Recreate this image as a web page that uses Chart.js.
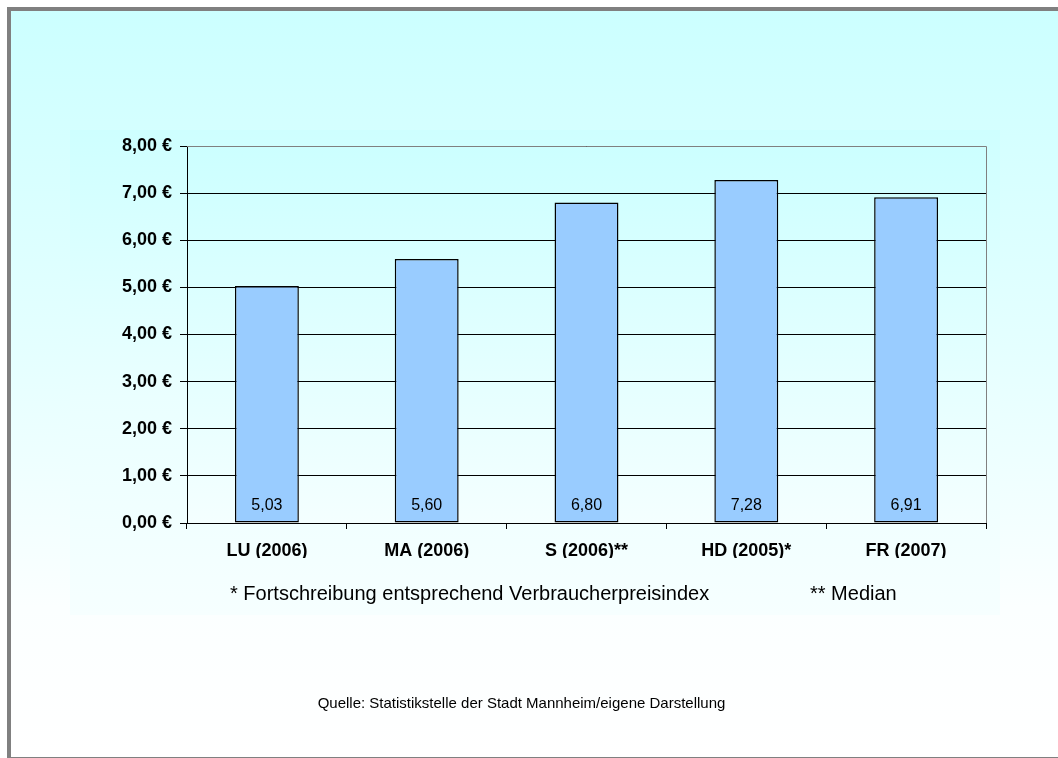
<!DOCTYPE html>
<html>
<head>
<meta charset="utf-8">
<script src="https://cdn.jsdelivr.net/npm/chart.js@4.4.0/dist/chart.umd.min.js"></script>
<style>
  html, body { margin: 0; padding: 0; }
  body { width: 1058px; height: 758px; position: relative; overflow: hidden; background: #fff; font-family: "Liberation Sans", Arial, sans-serif; }
  #frame { position: absolute; left: 7px; top: 7px; width: 1060px; height: 746px; border-left: 4px solid #808080; border-top: 4px solid #808080; border-bottom: 1px solid #808080;
    background: linear-gradient(to bottom, #ccffff 0%, #e4ffff 45%, #fbffff 80%, #ffffff 100%); }
  #inner { position: absolute; left: 70px; top: 130px; width: 930px; height: 485px;
    background: linear-gradient(to bottom, #ceffff 0%, #eaffff 55%, #f6ffff 100%); }
  #wrap { position: absolute; left: 0; top: 0; width: 1058px; height: 758px; }
  .note { position: absolute; font-size: 20px; color: #000; white-space: nowrap; }
  #src { position: absolute; left: 0; width: 1043px; text-align: center; top: 694px; font-size: 15px; color: #000; }
</style>
</head>
<body>
<div id="frame"></div>
<div id="inner"></div>
<div id="wrap"><canvas id="chart" width="1058" height="758"></canvas></div>
<div class="note" style="left:230px; top:582px;">* Fortschreibung entsprechend Verbraucherpreisindex</div>
<div class="note" style="left:810px; top:582px;">** Median</div>
<div id="src">Quelle: Statistikstelle der Stadt Mannheim/eigene Darstellung</div>
<script>
const categories = ["LU (2006)", "MA (2006)", "S (2006)**", "HD (2005)*", "FR (2007)"];
const values = [5.03, 5.60, 6.80, 7.28, 6.91];
const valueLabels = ["5,03", "5,60", "6,80", "7,28", "6,91"];

const euro = (v) => v.toFixed(2).replace(".", ",") + " \u20ac";

// plot area background + border
const plotBg = {
  id: "plotBg",
  beforeDraw(chart) {
    const { ctx, chartArea: a } = chart;
    const g = ctx.createLinearGradient(0, a.top, 0, a.bottom);
    g.addColorStop(0, "#ccffff");
    g.addColorStop(1, "#f4ffff");
    ctx.save();
    ctx.fillStyle = g;
    ctx.fillRect(a.left, a.top, a.right - a.left, a.bottom - a.top);
    ctx.restore();
  },
  afterDraw(chart) {
    const { ctx, chartArea: a } = chart;
    ctx.save();
    ctx.strokeStyle = "#808080";
    ctx.lineWidth = 1;
    ctx.beginPath();
    ctx.moveTo(a.left, a.top + 0.5);
    ctx.lineTo(a.right + 0.5, a.top + 0.5);
    ctx.lineTo(a.right + 0.5, a.bottom);
    ctx.stroke();
    ctx.restore();
  }
};

// value labels inside the bars
const barLabels = {
  id: "barLabels",
  afterDatasetsDraw(chart) {
    const { ctx } = chart;
    const meta = chart.getDatasetMeta(0);
    ctx.save();
    ctx.font = "16px 'Liberation Sans', Arial, sans-serif";
    ctx.fillStyle = "#000";
    ctx.textAlign = "center";
    ctx.textBaseline = "middle";
    meta.data.forEach((bar, i) => {
      ctx.fillText(valueLabels[i], bar.x, chart.chartArea.bottom - 17);
    });
    ctx.restore();
  }
};

new Chart(document.getElementById("chart"), {
  type: "bar",
  data: {
    labels: categories,
    datasets: [{
      data: values,
      backgroundColor: "#99ccff",
      borderColor: "#000000",
      borderWidth: 1.5,
      borderSkipped: false,
      categoryPercentage: 0.8,
      barPercentage: 0.5
    }]
  },
  options: {
    responsive: false,
    animation: false,
    layout: { padding: { left: 70, top: 146, right: 72, bottom: 200 } },
    plugins: { legend: { display: false }, tooltip: { enabled: false } },
    scales: {
      x: {
        afterFit: (s) => { s.height = 35; },
        grid: { offset: true, drawOnChartArea: false, tickLength: 6, tickColor: "#000", color: "#000" },
        border: { color: "#000", width: 1 },
        ticks: { color: "#000", padding: 11, font: { family: "'Liberation Sans', Arial", size: 18, weight: "bold" } }
      },
      y: {
        min: 0, max: 8,
        afterFit: (s) => { s.width = 117; },
        grid: { color: "#000", lineWidth: 1, tickLength: 7, tickColor: "#000" },
        border: { color: "#000", width: 1 },
        ticks: { stepSize: 1, color: "#000", padding: 8, callback: (v) => euro(v),
          font: { family: "'Liberation Sans', Arial", size: 18, weight: "bold" } }
      }
    }
  },
  plugins: [plotBg, barLabels]
});
</script>
</body>
</html>
